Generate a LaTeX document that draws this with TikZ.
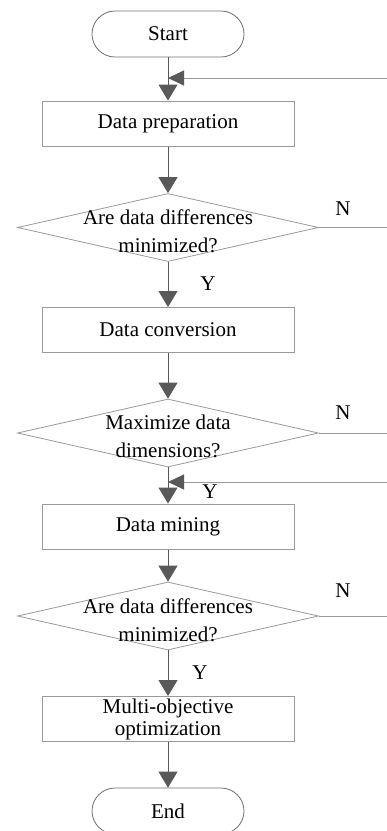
\documentclass[tikz,border=0pt]{standalone}
\usepackage{fontspec}
\setmainfont{Liberation Serif}
\usetikzlibrary{arrows.meta,shapes.geometric}
\definecolor{flowgray}{HTML}{595959}
\definecolor{boxgray}{HTML}{9A9A9A}
\definecolor{termgray}{HTML}{707070}

\begin{document}
\begin{tikzpicture}[
    x=1pt, y=1pt,
    font=\fontsize{21}{24}\selectfont,
    terminal/.style={draw=termgray, line width=0.8pt, rounded corners=23pt,
      minimum width=152pt, minimum height=46pt, inner sep=0pt},
    process/.style={draw=boxgray, line width=1pt, align=center,
      minimum width=252pt, minimum height=45pt, inner sep=0pt},
    decision/.style={draw=boxgray, line width=0.8pt, diamond,
      minimum width=301pt, minimum height=68pt, inner sep=0pt},
    qtext/.style={align=center, font=\fontsize{21}{28}\selectfont},
    flow/.style={-{Triangle[length=16pt,width=19pt]}, draw=flowgray, line width=1pt},
    feedback/.style={-{Triangle[length=16pt,width=15pt,color=flowgray]}, draw=boxgray, line width=1pt},
    loopline/.style={draw=boxgray, line width=1pt},
    answer/.style={inner sep=0pt}
  ]
  \useasboundingbox (0,0) rectangle (387,-831);

  \node[terminal] (start) at (168,-34) {Start};
  \node[process] (prep) at (168,-123.5) {Data preparation};
  \node[decision, label={[qtext,yshift=-4pt]center:Are data differences\\minimized?}] (check1) at (168,-227.5) {};
  \node[process] (conv) at (168,-330) {Data conversion};
  \node[decision, label={[qtext,yshift=-3pt]center:Maximize data\\dimensions?}] (check2) at (168,-433) {};
  \node[process] (mine) at (168,-526.5) {Data mining};
  \node[decision, label={[qtext,yshift=-4pt]center:Are data differences\\minimized?}] (check3) at (168,-616) {};
  \node[process, font=\fontsize{21}{22}\selectfont] (multi) at (168,-719) {Multi-objective\\optimization};
  \node[terminal] (finish) at (168,-811) {End};

  \coordinate (join1) at (168,-78);
  \coordinate (back1) at (387,-78);
  \coordinate (join2) at (168,-482);
  \coordinate (back2) at (387,-482);
  \coordinate (out1) at (387,-227.5);
  \coordinate (out2) at (387,-433);
  \coordinate (out3) at (387,-616);

  \draw[flow] (start) -- (prep);
  \draw[flow] (prep) -- (check1);
  \draw[flow] (check1) -- (conv);
  \draw[flow] (conv) -- (check2);
  \draw[flow] (check2) -- (mine);
  \draw[flow] (mine) -- (check3);
  \draw[flow] (check3) -- (multi);
  \draw[flow] (multi) -- (finish);

  \draw[loopline] (check1.east) -- (out1);
  \draw[loopline] (check2.east) -- (out2);
  \draw[loopline] (check3.east) -- (out3);
  \draw[feedback] (back1) -- (join1);
  \draw[feedback] (back2) -- (join2);

  \node[answer] (yes1) at (208,-284) {Y};
  \node[answer] (yes2) at (210,-492) {Y};
  \node[answer] (yes3) at (200,-673) {Y};
  \node[answer] (no1) at (343,-209) {N};
  \node[answer] (no2) at (343,-413) {N};
  \node[answer] (no3) at (343,-591) {N};
\end{tikzpicture}
\end{document}
